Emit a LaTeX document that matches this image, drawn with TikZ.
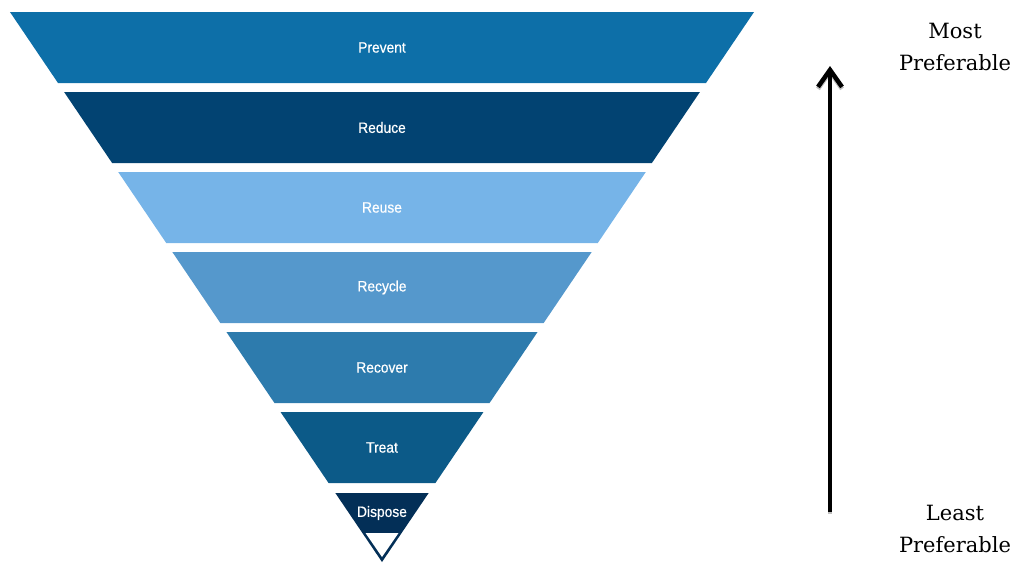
\documentclass[tikz,border=0pt]{standalone}
\usepackage{fontspec}
\usetikzlibrary{arrows.meta}
\newfontfamily\bandfont[FakeStretch=0.92,FakeBold=0.5]{Liberation Sans}
\newfontfamily\notefont{DejaVu Serif}

\definecolor{cPrevent}{HTML}{0D6FA8}
\definecolor{cReduce}{HTML}{024372}
\definecolor{cReuse}{HTML}{76B4E8}
\definecolor{cRecycle}{HTML}{5598CC}
\definecolor{cRecover}{HTML}{2D7BAD}
\definecolor{cTreat}{HTML}{0C5A88}
\definecolor{cDispose}{HTML}{032F57}

\begin{document}
\begin{tikzpicture}[x=1pt,y=-1pt,
  bandlabel/.style={text=white,font=\bandfont\fontsize{15}{18}\selectfont,inner sep=0pt},
  sidenote/.style={font=\notefont\fontsize{21}{32}\selectfont,align=center,anchor=base,inner sep=0pt},
  scalearrow/.style={line width=4.5pt,-{Straight Barb[length=17pt,width=24pt]}}]
\useasboundingbox (0,0) rectangle (1019,563);

% inverted pyramid: apex at (382,562), half width shrinks by 0.6764 per unit of depth
\foreach \t/\b/\c/\l/\n in {12/83/cPrevent/Prevent/prevent,
                            92/163/cReduce/Reduce/reduce,
                            172/243/cReuse/Reuse/reuse,
                            252/323/cRecycle/Recycle/recycle,
                            332/403/cRecover/Recover/recover,
                            412/483/cTreat/Treat/treat}{
  \pgfmathsetmacro\halftop{(562-\t)*0.6764}
  \pgfmathsetmacro\halfbot{(562-\b)*0.6764}
  \fill[\c] (382-\halftop,\t) -- (382+\halftop,\t) -- (382+\halfbot,\b) -- (382-\halfbot,\b) -- cycle;
  \node[bandlabel] (\n) at (382,{(\t+\b)/2}) {\l};
}

% bottom layer runs down to the apex, with a hollow tip
\pgfmathsetmacro\halfdisp{(562-493)*0.6764}
\fill[cDispose] (382-\halfdisp,493) -- (382+\halfdisp,493) -- (382,562) -- cycle;
\fill[white] (365.5,533) -- (398.5,533) -- (382,557) -- cycle;
\node[bandlabel] (dispose) at (382,513) {Dispose};

% preference scale
\coordinate (low) at (830,512);
\coordinate (high) at (830,66);
\draw[scalearrow,black!25,transform canvas={yshift=-2pt}] (low) -- (high);
\draw[scalearrow] (low) -- (high);

% multi-line nodes: base anchor sits on the last line's baseline
\node[sidenote] (most) at (955,70) {Most\\Preferable};
\node[sidenote] (least) at (955,552) {Least\\Preferable};
\end{tikzpicture}
\end{document}
